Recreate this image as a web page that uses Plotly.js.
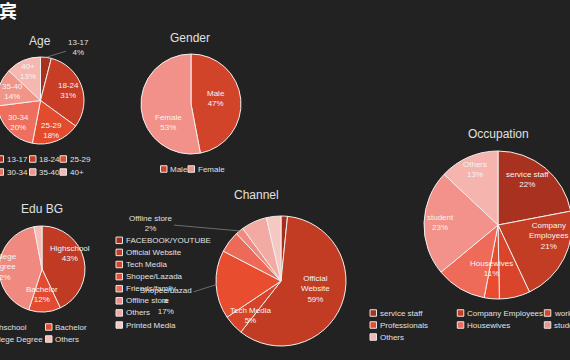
<!DOCTYPE html>
<html><head><meta charset="utf-8">
<script src="https://cdn.plot.ly/plotly-3.0.1.min.js"></script>
<style>
html,body{margin:0;padding:0;background:#222222;overflow:hidden;width:570px;height:360px;}
#chart{position:absolute;left:-30px;top:0;width:620px;height:360px;}
</style>
</head><body><div id="chart"></div>
<script>
// ---------------- data ----------------
const ageLabels = ['13-17','18-24','25-29','30-34','35-40','40+'];
const ageValues = [4,31,18,20,14,13];
const genderLabels = ['Male','Female'];
const genderValues = [47,53];
const eduLabels = ['Highschool','Bachelor','College Degree','Others'];
const eduValues = [43,12,42,3];
const channelLabels = ['FACEBOOK/YOUTUBE','Official Website','Tech Media','Shopee/Lazada','Friends/family','Offline store','Others','Printed Media'];
const channelValues = [1.6,59,5,17,5.4,2,6.4,3.6];
const occLabels = ['service staff','Company Employees','workers','Professionals','Housewives','student','Others'];
const occValues = [22,21,6.7,3.3,11,23,13];

// ---------------- styling ----------------
const ageColors = ['#a8311e','#c73d25','#e24b2e','#ee6f5e','#f29589','#f5b7af'];
const genderColors = ['#d1442a','#f1918a'];
const eduColors = ['#c13b24','#e24b2f','#f08a80','#f6bdb6'];
const channelColors = ['#a22e1c','#c23c24','#d6442a','#e84d2f','#ee6a58','#f08b82','#f3aaa2','#f6c8c2'];
const occColors = ['#a8321f','#c33d25','#d9442b','#e94b2f','#ee6b5a','#f2928a','#f5b5ae'];

const W = 620, H = 360, OFF = 30;
const X = px => (px + OFF) / W;
const Y = py => 1 - py / H;
const FONT = 'Liberation Sans, Arial, sans-serif';
const LABEL_COLOR = '#f4f4f4';
const LEG_COLOR = '#e0e0e0';
const TITLE_COLOR = '#e0e0e0';

// label placement (layout only): slice index -> text centre in page pixels
const charts = [
  {title:'Age', tx:40, ty:41, labels:ageLabels, values:ageValues, colors:ageColors,
   box:{cx:40.5, cy:100.5, r:43.5},
   inside:[{i:1,x:68.5,y:90.5},{i:2,x:51.7,y:130.3},{i:3,x:19,y:122.7},{i:4,x:12.3,y:91.7},{i:5,x:27.6,y:72}],
   outside:[{i:0, tx:78, ty:47.5}],
   legend:{cols:[-3,29.5,60], rows:[159,172]}},
  {title:'Gender', tx:190, ty:38, labels:genderLabels, values:genderValues, colors:genderColors,
   box:{cx:191, cy:104, r:50},
   inside:[{i:0,x:216,y:98.7},{i:1,x:168.3,y:122.5}], outside:[],
   legend:{cols:[160.5,188], rows:[169]}},
  {title:'Edu BG', tx:42, ty:209, labels:eduLabels, values:eduValues, colors:eduColors,
   box:{cx:42, cy:269, r:43},
   inside:[{i:0,x:70,y:253.7},{i:1,x:42.3,y:294.7},{i:2,x:3,y:266.5,br:true}], outside:[],
   legend:{cols:[-23,45.5], rows:[327,339]}},
  {title:'Channel', tx:256, ty:195, labels:channelLabels, values:channelValues, colors:channelColors,
   box:{cx:281, cy:281, r:65},
   inside:[{i:1,x:315.7,y:289,br:true},{i:2,x:250.7,y:315.7}],
   outside:[{i:5, tx:150.5, ty:223}, {i:3, tx:166, ty:300.5, wrapLast:true}],
   legend:{cols:[116], rows:[240.3,252.4,264.5,276.6,288.7,300.8,312.9,325]}},
  {title:'Occupation', tx:498, ty:134, labels:occLabels, values:occValues, colors:occColors,
   box:{cx:498, cy:225, r:74},
   inside:[{i:0,x:527.3,y:179},{i:1,x:549.3,y:235.5,br:true},{i:4,x:491.7,y:268},{i:5,x:440,y:222},{i:6,x:475.3,y:169}],
   outside:[],
   legend:{cols:[370,457.3,544.3], rows:[313,325,337]}}
];

const traces = [];
const annotations = [];
const shapes = [];

annotations.push({text:'宾', x:X(-3), y:Y(10), xref:'paper', yref:'paper', xanchor:'left', yanchor:'middle',
  showarrow:false, font:{family:'Noto Sans CJK SC', size:18, color:'#ffffff', weight:'bold'}});

charts.forEach(c => {
  const b = c.box;
  const total = c.values.reduce((a,v)=>a+v,0);
  const pct = i => Math.round(c.values[i] / total * 100) + '%';
  traces.push({
    type:'pie', labels:c.labels, values:c.values, sort:false, direction:'clockwise', rotation:0,
    marker:{colors:c.colors, line:{color:'#f0f0f0', width:1}},
    textinfo:'none',
    showlegend:false, hoverinfo:'skip',
    domain:{x:[X(b.cx-b.r), X(b.cx+b.r)], y:[Y(b.cy+b.r), Y(b.cy-b.r)]}
  });
  annotations.push({text:c.title, x:X(c.tx), y:Y(c.ty), xref:'paper', yref:'paper',
    xanchor:'center', yanchor:'middle', showarrow:false, font:{family:FONT, size:12, color:TITLE_COLOR}});
  // slice labels
  c.inside.forEach(o => {
    const lab = o.br ? c.labels[o.i].replace(' ', '<br>') : c.labels[o.i];
    annotations.push({text:lab + '<br>' + pct(o.i), x:X(o.x), y:Y(o.y), xref:'paper', yref:'paper',
      xanchor:'center', yanchor:'middle', showarrow:false, font:{family:FONT, size:8, color:LABEL_COLOR}});
  });
  // outside labels with leader lines
  c.outside.forEach(o => {
    let cum = 0; for (let k=0;k<o.i;k++) cum += c.values[k];
    const ang = (cum + c.values[o.i]/2) / total * 2 * Math.PI;
    const px = b.cx + b.r*Math.sin(ang), py = b.cy - b.r*Math.cos(ang);
    const L = c.labels[o.i];
    const lab = o.wrapLast ? L.slice(0, -1) + '<br>' + L.slice(-1) : L;
    annotations.push({text:lab + '<br>' + pct(o.i),
      x:X(px), y:Y(py), xref:'paper', yref:'paper', ax:o.tx-px, ay:o.ty-py,
      showarrow:true, arrowhead:0, arrowwidth:0.7, arrowcolor:'#8c8c8c', standoff:0, startstandoff:0,
      font:{family:FONT, size:8, color:'#e0e0e0'}});
  });
  // legend
  const nc = c.legend.cols.length;
  c.labels.forEach((lab, i) => {
    const col = c.legend.cols[i % nc], row = c.legend.rows[Math.floor(i / nc)];
    shapes.push({type:'rect', xref:'paper', yref:'paper', x0:X(col), x1:X(col+6.5), y0:Y(row+3.25), y1:Y(row-3.25),
      fillcolor:c.colors[i], line:{color:'#e6e6e6', width:1}});
    annotations.push({text:lab, x:X(col+7.5), y:Y(row), xref:'paper', yref:'paper', xanchor:'left', yanchor:'middle',
      showarrow:false, font:{family:FONT, size:8, color:LEG_COLOR}});
  });
});

const layout = {width:W, height:H, margin:{l:0,r:0,t:0,b:0}, paper_bgcolor:'#222222', plot_bgcolor:'#222222',
  showlegend:false, annotations, shapes, font:{family:FONT}};
Plotly.newPlot('chart', traces, layout, {staticPlot:true, displayModeBar:false});
</script>
</body></html>
